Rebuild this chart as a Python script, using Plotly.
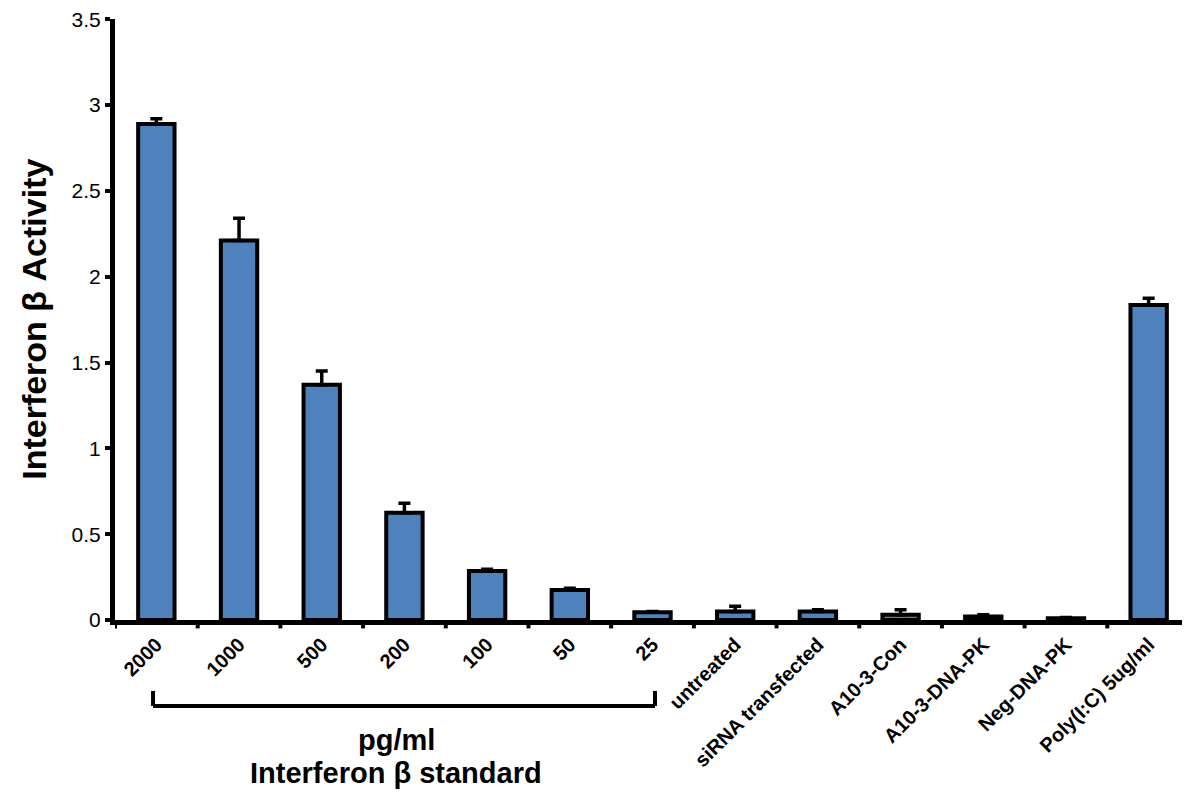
import plotly.graph_objects as go

categories = ["2000", "1000", "500", "200", "100", "50", "25", "untreated",
              "siRNA transfected", "A10-3-Con", "A10-3-DNA-PK", "Neg-DNA-PK",
              "Poly(I:C) 5ug/ml"]
values = [2.89, 2.21, 1.37, 0.625, 0.285, 0.175, 0.045, 0.05, 0.05, 0.03, 0.02, 0.01, 1.835]
errors = [0.03, 0.13, 0.08, 0.055, 0.01, 0.01, 0.005, 0.03, 0.01, 0.03, 0.01, 0.005, 0.04]
y_ticks = [0, 0.5, 1, 1.5, 2, 2.5, 3, 3.5]
y_tick_text = ["0", "0.5", "1", "1.5", "2", "2.5", "3", "3.5"]

fig = go.Figure()
fig.add_trace(go.Bar(
    x=list(range(len(categories))), y=values,
    width=0.44,
    marker=dict(color="#4F81BD", line=dict(color="black", width=4)),
    error_y=dict(type="data", symmetric=False, array=errors,
                 arrayminus=[0] * len(errors), color="black",
                 thickness=3.5, width=6),
))

# page body has an 8px margin; the figure is sized so it fills the window
fig.update_layout(
    width=1182, height=785,
    margin=dict(l=107, r=0, t=11, b=173),
    plot_bgcolor="white", paper_bgcolor="white",
    showlegend=False,
    font=dict(family="Liberation Sans, Arial", color="black"),
    xaxis=dict(
        tickmode="array", tickvals=list(range(len(categories))),
        ticktext=[f"<b>{c}</b>" for c in categories],
        tickangle=-45, tickfont=dict(size=20),
        range=[-0.5, len(categories) - 0.5],
        showline=True, linecolor="black", linewidth=5,
        ticks="", showgrid=False, zeroline=False, automargin=False,
    ),
    yaxis=dict(
        range=[0, 3.501], tickvals=y_ticks, ticktext=y_tick_text,
        tickfont=dict(size=21), ticklabeloverflow="allow",
        showline=True, linecolor="black", linewidth=5,
        ticks="outside", ticklen=5, tickwidth=4, tickcolor="black",
        showgrid=False, zeroline=False, automargin=False,
    ),
)

fig.add_annotation(text="<b>Interferon β Activity</b>", xref="paper", yref="paper",
                   x=-0.076, y=0.5, xanchor="center", yanchor="middle",
                   textangle=-90, showarrow=False, font=dict(size=34))

# category boundary tick marks on x axis
for i in range(len(categories) + 1):
    fig.add_shape(type="line", xref="x", yref="paper",
                  x0=i - 0.5, x1=i - 0.5, y0=0, y1=-0.014,
                  line=dict(color="black", width=4))

# bracket under the standard group
fig.add_shape(type="line", xref="x", yref="paper", x0=-0.04, x1=6.03,
              y0=-0.143, y1=-0.143, line=dict(color="black", width=4))
fig.add_shape(type="line", xref="x", yref="paper", x0=-0.04, x1=-0.04,
              y0=-0.143, y1=-0.118, line=dict(color="black", width=4))
fig.add_shape(type="line", xref="x", yref="paper", x0=6.03, x1=6.03,
              y0=-0.143, y1=-0.118, line=dict(color="black", width=4))

fig.add_annotation(text="<b>pg/ml</b>", xref="x", yref="paper", x=2.9, y=-0.2,
                   yanchor="middle", showarrow=False, font=dict(size=29))
fig.add_annotation(text="<b>Interferon β standard</b>", xref="x", yref="paper", x=2.9,
                   y=-0.255, yanchor="middle", showarrow=False, font=dict(size=29))

fig.write_html("out.html")
